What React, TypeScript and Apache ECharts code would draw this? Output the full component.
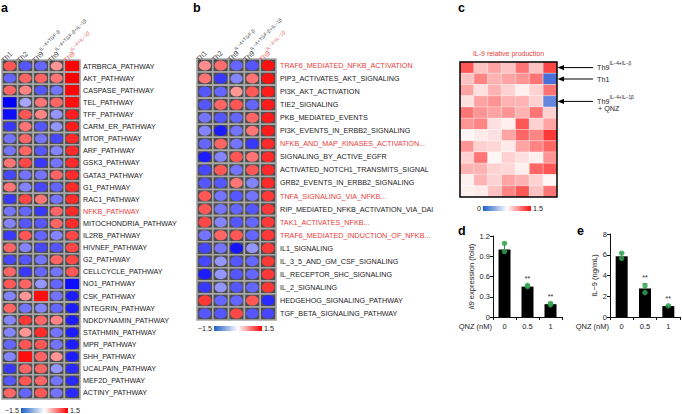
import React, { useEffect, useRef } from "react";
import * as echarts from "echarts";

const FONT = "'Liberation Sans', Arial, Helvetica, sans-serif";
const RED = "#e8403a";

const colBase = ["Th1", "Th2", "Th9", "Th9", "Th9"];
const colSup = ["", "", "IL−4+TGF-β", "IL−4+TGF-β+IL−1β", "IL−4+IL−1β"];
const colKeys = ["Th1", "Th2", "Th9 IL-4+TGF-β", "Th9 IL-4+TGF-β+IL-1β", "Th9 IL-4+IL-1β"];

const pathwaysA = ["ATRBRCA_PATHWAY","AKT_PATHWAY","CASPASE_PATHWAY","TEL_PATHWAY","TFF_PATHWAY","CARM_ER_PATHWAY","MTOR_PATHWAY","ARF_PATHWAY","GSK3_PATHWAY","GATA3_PATHWAY","G1_PATHWAY","RAC1_PATHWAY","NFKB_PATHWAY","MITOCHONDRIA_PATHWAY","IL2RB_PATHWAY","HIVNEF_PATHWAY","G2_PATHWAY","CELLCYCLE_PATHWAY","NO1_PATHWAY","CSK_PATHWAY","INTEGRIN_PATHWAY","NDKDYNAMIN_PATHWAY","STATHMIN_PATHWAY","MPR_PATHWAY","SHH_PATHWAY","UCALPAIN_PATHWAY","MEF2D_PATHWAY","ACTINY_PATHWAY"];
const highlightA = ["NFKB_PATHWAY"];
const valuesA = [
  [0.9, -0.9, -0.8, 0.5, 1.5],
  [-0.8, 0.8, 0.8, 0.7, 1.5],
  [0.8, 0.6, -0.9, -0.7, 1.45],
  [-1.5, -0.4, 0.7, 0.8, 1.4],
  [-1.4, 0.9, 0.6, -0.5, 1.3],
  [-1.1, 0.7, -0.9, -0.5, 1.3],
  [-0.7, 0.8, -0.7, -1.0, 1.2],
  [-0.7, 0.8, -0.9, -0.6, 1.2],
  [0.7, 1.0, -1.1, -0.7, 1.2],
  [-1.0, -0.7, -0.7, 0.8, 1.2],
  [0.7, -0.6, -1.0, -0.8, 1.2],
  [-1.1, 1.0, 0.7, -0.7, 1.2],
  [-0.7, -0.8, -1.1, 0.8, 1.2],
  [-0.6, -0.9, -0.9, 0.8, 1.2],
  [-1.1, 0.9, -0.8, -0.6, 1.0],
  [0.8, -0.6, -1.0, -0.9, 1.0],
  [-1.0, -0.9, -0.7, 0.8, 1.0],
  [0.8, -1.1, -0.8, -0.7, 0.9],
  [0.9, 0.8, -0.5, -0.8, -1.4],
  [-0.6, 0.5, 1.4, -0.7, -1.3],
  [0.8, -0.7, -0.6, -0.8, -1.3],
  [-0.6, 1.1, 0.8, 0.6, -1.3],
  [-0.6, 0.5, 1.2, -0.7, -1.3],
  [-0.8, 0.9, 0.9, -0.7, -1.3],
  [-0.6, 1.4, 0.8, 0.5, -1.3],
  [-1.1, 0.8, 0.8, -0.5, -1.2],
  [-0.9, 0.9, 0.8, -0.7, -1.2],
  [0.8, -0.8, 0.9, -0.7, -1.2],
];

const pathwaysB = ["TRAF6_MEDIATED_NFKB_ACTIVATION","PIP3_ACTIVATES_AKT_SIGNALING","PI3K_AKT_ACTIVATION","TIE2_SIGNALING","PKB_MEDIATED_EVENTS","PI3K_EVENTS_IN_ERBB2_SIGNALING","NFKB_AND_MAP_KINASES_ACTIVATION...","SIGNALING_BY_ACTIVE_EGFR","ACTIVATED_NOTCH1_TRANSMITS_SIGNAL","GRB2_EVENTS_IN_ERBB2_SIGNALING","TNFA_SIGNALING_VIA_NFKB...","RIP_MEDIATED_NFKB_ACTIVATION_VIA_DAI","TAK1_ACTIVATES_NFKB...","TRAF6_MEDIATED_INDUCTION_OF_NFKB...","IL1_SIGNALING","IL_3_5_AND_GM_CSF_SIGNALING","IL_RECEPTOR_SHC_SIGNALING","IL_2_SIGNALING","HEDGEHOG_SIGNALING_PATHWAY","TGF_BETA_SIGNALING_PATHWAY"];
const highlightB = ["TRAF6_MEDIATED_NFKB_ACTIVATION","NFKB_AND_MAP_KINASES_ACTIVATION...","TNFA_SIGNALING_VIA_NFKB...","TAK1_ACTIVATES_NFKB...","TRAF6_MEDIATED_INDUCTION_OF_NFKB..."];
const valuesB = [
  [0.55, 0.75, -0.8, -0.9, 1.37],
  [0.7, -1.1, -0.6, 0.7, 1.37],
  [-0.9, -0.8, 0.5, 0.9, 1.3],
  [-0.9, 0.8, 0.9, -0.8, 1.3],
  [-0.7, -0.9, -0.8, 0.8, 1.3],
  [-0.6, -1.3, -0.7, 0.7, 1.3],
  [-0.8, 0.8, -0.7, -1.1, 1.2],
  [-1.3, -0.6, 0.9, 0.7, 1.2],
  [-1.0, 0.9, -0.7, 0.9, 1.2],
  [-0.9, -0.9, 0.7, -0.6, 1.2],
  [0.9, -0.7, -0.9, -0.7, 1.1],
  [0.9, -0.7, -0.8, -0.9, 1.1],
  [1.0, -0.6, -0.9, -0.8, 1.1],
  [-0.7, 0.8, 0.9, -0.8, 1.1],
  [-1.0, -0.7, -1.35, -0.5, 1.1],
  [-1.0, -0.5, -0.9, -0.8, 1.1],
  [-1.3, -0.5, -0.9, -0.8, 1.1],
  [-1.1, -0.5, -0.9, -0.8, 1.1],
  [1.1, -0.8, -0.8, 0.9, -1.2],
  [-0.9, -0.9, 1.0, -0.9, -1.0],
];

const cCols = ["1", "2", "3", "4", "5", "6", "7"];
const cRows = ["r1", "r2", "r3", "r4", "r5", "r6", "r7", "r8", "r9", "r10", "r11", "r12"];
const valuesC = [
  [1.3, 0.95, 1.05, 0.95, 1.2, 0.95, 1.35],
  [0.95, 1.15, 1.0, 1.05, 1.1, 1.2, 0.1],
  [1.05, 0.85, 1.0, 0.9, 0.8, 0.9, 1.2],
  [0.85, 1.05, 1.1, 1.0, 1.0, 0.9, 0.2],
  [1.2, 1.1, 1.05, 1.1, 1.0, 1.2, 0.9],
  [1.1, 1.15, 0.85, 0.8, 1.3, 0.9, 1.05],
  [0.78, 0.82, 0.85, 1.05, 1.25, 1.15, 1.4],
  [1.1, 0.9, 0.88, 0.82, 1.05, 1.15, 1.25],
  [0.9, 1.2, 0.78, 0.9, 0.85, 0.8, 1.1],
  [1.0, 1.0, 0.9, 0.88, 0.8, 1.25, 1.3],
  [0.8, 1.0, 0.9, 1.05, 1.0, 0.9, 0.78],
  [0.8, 0.82, 0.95, 1.15, 1.3, 0.95, 1.2],
];

const qnz = ["0", "0.5", "1"];
const meanD = [1.0, 0.45, 0.19];
const sdD = [0.1, 0.03, 0.02];
const dotsD = [[1.09, 0.97], [0.47, 0.45], [0.2, 0.18]];
const sigD = ["", "**", "**"];
const meanE = [5.85, 2.75, 1.05];
const sdE = [0.35, 0.45, 0.1];
const dotsE = [[6.15, 5.65], [3.0, 2.35], [1.08]];
const sigE = ["", "**", "**"];

function divColor(v: number) {
  const t = Math.max(-1, Math.min(1, v / 1.5));
  const k = Math.pow(Math.abs(t), 0.8);
  const m = Math.round(255 * (1 - k));
  return t < 0 ? `rgb(${m},${m},255)` : `rgb(255,${m},${m})`;
}
function seqColor(v: number) {
  const t = Math.max(-1, Math.min(1, (v - 0.75) / 0.75));
  const a = Math.abs(t);
  const end = t < 0 ? [45, 90, 210] : [255, 25, 25];
  const mix = end.map((e) => Math.round(255 + (e - 255) * a));
  return `rgb(${mix[0]},${mix[1]},${mix[2]})`;
}

const heatItem = (params: any, api: any) => {
  const c = api.coord([api.value(0), api.value(1)]);
  const s = api.size([1, 1]);
  const w = s[0], h = s[1], v = api.value(2);
  const col = divColor(v);
  const x0 = c[0] - w / 2, y0 = c[1] - h / 2;
  const a = Math.min(1, Math.abs(v) / 1.5);
  const kids: any[] = [
    { type: "rect", shape: { x: x0, y: y0, width: w, height: h }, style: { fill: "#4f4f4f", stroke: "#a8a8a8", lineWidth: 1.6 } },
  ];
  if (Math.abs(v) >= 1.38) {
    kids.push({ type: "rect", shape: { x: x0 + 1, y: y0 + 1, width: w - 2, height: h - 2 }, style: { fill: col } });
  } else {
    kids.push({ type: "ellipse", shape: { cx: c[0], cy: c[1], rx: w / 2 - 2.2 + 0.9 * a, ry: h / 2 - 1.9 + 0.7 * a }, style: { fill: col } });
  }
  return { type: "group", children: kids };
};

const headerRich = {
  b: { fontSize: 7.2, fontFamily: FONT, color: "#111", lineHeight: 10, verticalAlign: "bottom" },
  s: { fontSize: 5, fontFamily: FONT, color: "#111", lineHeight: 10, verticalAlign: "top" },
  r: { fontSize: 7.2, fontFamily: FONT, color: RED, lineHeight: 10, verticalAlign: "bottom" },
  rs: { fontSize: 5, fontFamily: FONT, color: RED, lineHeight: 10, verticalAlign: "top" },
};
const headerText = (i: number) => {
  const hot = i === colKeys.length - 1;
  const b = hot ? "r" : "b";
  const s = hot ? "rs" : "s";
  return colSup[i] ? `{${b}|${colBase[i]}}{${s}|${colSup[i]}}` : `{${b}|${colBase[i]}}`;
};
// rotated column headers as labels of an invisible scatter on the heatmap's own axes
const headerSeries = (axisIndex: number, firstRow: string, lift: number) => ({
  type: "scatter", xAxisIndex: axisIndex, yAxisIndex: axisIndex, symbolSize: 0, silent: true, z: 5,
  data: colKeys.map((k) => [k, firstRow]),
  label: {
    show: true, position: "inside", rotate: 45, align: "left", verticalAlign: "middle",
    offset: [-2, -lift], formatter: (p: any) => headerText(p.dataIndex), rich: headerRich,
  },
});

const cItem = (params: any, api: any) => {
  const c = api.coord([api.value(0), api.value(1)]);
  const s = api.size([1, 1]);
  return {
    type: "rect",
    shape: { x: c[0] - s[0] / 2, y: c[1] - s[1] / 2, width: s[0], height: s[1] },
    style: { fill: seqColor(api.value(2)), stroke: "rgba(255,255,255,0.5)", lineWidth: 0.5 },
  };
};

const errItem = (sig: string[]) => (params: any, api: any) => {
  const x = api.value(0), m = api.value(1), sd = api.value(2);
  const b = api.coord([x, m]);
  const t = api.coord([x, m + sd]);
  return {
    type: "group",
    children: [
      { type: "line", shape: { x1: b[0], y1: b[1], x2: t[0], y2: t[1] }, style: { stroke: "#258a48", lineWidth: 1 } },
      { type: "line", shape: { x1: t[0] - 2.5, y1: t[1], x2: t[0] + 2.5, y2: t[1] }, style: { stroke: "#258a48", lineWidth: 1 } },
      { type: "text", x: t[0], y: t[1] - 3, style: { text: sig[params.dataIndex], fontSize: 7, fontFamily: FONT, fill: "#222", align: "center", verticalAlign: "bottom" } },
    ],
  };
};

const heatXAxis = (gridIndex: number) => ({
  type: "category", gridIndex, data: colKeys, position: "top",
  axisLine: { show: false }, axisTick: { show: false }, splitLine: { show: false }, axisLabel: { show: false },
});
const heatYAxis = (gridIndex: number, data: string[], hl: string[], margin: number) => ({
  type: "category", gridIndex, data, inverse: true, position: "right",
  axisLine: { show: false }, axisTick: { show: false }, splitLine: { show: false },
  axisLabel: { interval: 0, margin, fontSize: 7.2, fontFamily: FONT, color: (v: string) => (hl.includes(v) ? RED : "#1a1a1a") },
});

const barYAxis = (gridIndex: number, max: number, interval: number, name: string, nameGap: number) => ({
  type: "value", gridIndex, min: 0, max, interval,
  name, nameLocation: "middle", nameGap, nameRotate: 90,
  nameTextStyle: { fontSize: 7.5, fontFamily: FONT, color: "#222", rich: { i: { fontSize: 7.5, fontFamily: FONT, fontStyle: "italic", color: "#222" } } },
  axisLine: { show: true, lineStyle: { color: "#111", width: 1 } },
  axisTick: { show: true, length: 3, lineStyle: { color: "#111" } },
  splitLine: { show: false },
  axisLabel: { fontSize: 7.5, fontFamily: FONT, color: "#222", margin: 3 },
});
const barXAxis = (gridIndex: number) => ({
  type: "category", gridIndex, data: qnz,
  axisLine: { lineStyle: { color: "#111", width: 1 } },
  axisTick: { show: true, length: 3, lineStyle: { color: "#111" } },
  axisLabel: { fontSize: 7.5, fontFamily: FONT, color: "#222", margin: 5 },
});

const txt = (text: string, x: number, y: number, extra: any = {}) => ({
  type: "text", x, y,
  style: { text, fontSize: 7.2, fontFamily: FONT, fill: "#222", align: "left", verticalAlign: "middle", ...extra },
});
const letter = (text: string, x: number, y: number) => txt(text, x, y, { fontSize: 12.5, fontWeight: "bold", fill: "#000" });

const grad = (stops: string[]) =>
  new echarts.graphic.LinearGradient(0, 0, 1, 0, stops.map((c, i) => ({ offset: i / (stops.length - 1), color: c })));

const arrow = (y: number) => [
  { type: "line", shape: { x1: 593, y1: y, x2: 562, y2: y }, style: { stroke: "#000", lineWidth: 1 } },
  { type: "polygon", shape: { points: [[557.5, y], [564, y - 2.6], [564, y + 2.6]] }, style: { fill: "#000" } },
];
const supRich = {
  b: { fontSize: 7.2, fontFamily: FONT, fill: "#222", lineHeight: 10, verticalAlign: "bottom" },
  s: { fontSize: 4.8, fontFamily: FONT, fill: "#222", lineHeight: 10, verticalAlign: "top" },
};

export default function App() {
  const ref = useRef<HTMLDivElement>(null);
  useEffect(() => {
    if (!ref.current) return;
    const chart = echarts.init(ref.current, undefined, { renderer: "svg" });
    const option: any = {
      animation: false,
      backgroundColor: "#fff",
      grid: [
        { left: 2, top: 60, width: 78, height: 339 },
        { left: 197, top: 59, width: 79, height: 261 },
        { left: 460, top: 62, width: 97, height: 135, show: true, borderColor: "#000", borderWidth: 1.5, backgroundColor: "transparent", z: 10 },
        { left: 493, top: 236, width: 69, height: 81 },
        { left: 610, top: 234, width: 70, height: 83 },
      ],
      xAxis: [
        heatXAxis(0),
        heatXAxis(1),
        { type: "category", gridIndex: 2, data: cCols, show: false },
        barXAxis(3),
        barXAxis(4),
      ],
      yAxis: [
        heatYAxis(0, pathwaysA, highlightA, 3),
        heatYAxis(1, pathwaysB, highlightB, 4),
        { type: "category", gridIndex: 2, data: cRows, inverse: true, show: false },
        barYAxis(3, 1.2, 0.3, "{i|Il9} expression (fold)", 18),
        barYAxis(4, 8, 2, "IL−9 (ng/mL)", 11),
      ],
      series: [
        { type: "custom", xAxisIndex: 0, yAxisIndex: 0, renderItem: heatItem, data: valuesA.flatMap((row, r) => row.map((v, c) => [c, r, v])) },
        { type: "custom", xAxisIndex: 1, yAxisIndex: 1, renderItem: heatItem, data: valuesB.flatMap((row, r) => row.map((v, c) => [c, r, v])) },
        headerSeries(0, pathwaysA[0], 10),
        headerSeries(1, pathwaysB[0], 10.5),
        { type: "custom", xAxisIndex: 2, yAxisIndex: 2, renderItem: cItem, data: valuesC.flatMap((row, r) => row.map((v, c) => [c, r, v])) },
        { type: "bar", xAxisIndex: 3, yAxisIndex: 3, data: meanD, barWidth: 12, itemStyle: { color: "#000" } },
        { type: "custom", xAxisIndex: 3, yAxisIndex: 3, renderItem: errItem(sigD), data: meanD.map((m, i) => [i, m, sdD[i]]), z: 3 },
        { type: "scatter", xAxisIndex: 3, yAxisIndex: 3, symbolSize: 5.5, itemStyle: { color: "#34a853" }, z: 4, data: dotsD.flatMap((d, i) => d.map((v) => [i, v])) },
        { type: "bar", xAxisIndex: 4, yAxisIndex: 4, data: meanE, barWidth: 12, itemStyle: { color: "#000" } },
        { type: "custom", xAxisIndex: 4, yAxisIndex: 4, renderItem: errItem(sigE), data: meanE.map((m, i) => [i, m, sdE[i]]), z: 3 },
        { type: "scatter", xAxisIndex: 4, yAxisIndex: 4, symbolSize: 5.5, itemStyle: { color: "#34a853" }, z: 4, data: dotsE.flatMap((d, i) => d.map((v) => [i, v])) },
      ],
      graphic: [
        letter("a", 1, 7.5),
        letter("b", 193, 7.5),
        letter("c", 458, 7.5),
        letter("d", 458, 231),
        letter("e", 577, 231),
        { type: "rect", shape: { x: 21, y: 408, width: 47, height: 5 }, style: { fill: grad(["#1f5fc8", "#ffffff", "#ff0000"]) } },
        txt("−1.5", 19, 410.5, { align: "right" }),
        txt("1.5", 70, 410.5),
        { type: "rect", shape: { x: 214, y: 326, width: 48, height: 5 }, style: { fill: grad(["#1f5fc8", "#ffffff", "#ff0000"]) } },
        txt("−1.5", 212, 328.5, { align: "right" }),
        txt("1.5", 264, 328.5),
        { type: "rect", shape: { x: 483, y: 206, width: 48, height: 5 }, style: { fill: grad(["#1f5fc8", "#ffffff", "#ff1010"]) } },
        txt("0", 481, 208.5, { align: "right" }),
        txt("1.5", 533, 208.5),
        txt("IL-9 relative production", 508.5, 53.5, { align: "center", fill: RED, fontSize: 7 }),
        ...arrow(67.6),
        ...arrow(79),
        ...arrow(101.4),
        txt("{b|Th9}{s|IL−4+IL−β}", 597, 66, { rich: supRich }),
        txt("Th1", 597, 79.5),
        txt("{b|Th9}{s|IL−4+IL−1β}", 597, 99.5, { rich: supRich }),
        txt("+ QNZ", 598, 108.5),
        txt("QNZ (nM)", 492, 326, { align: "right", fontSize: 7.5 }),
        txt("QNZ (nM)", 609, 326, { align: "right", fontSize: 7.5 }),
      ],
    };
    chart.setOption(option);
    return () => chart.dispose();
  }, []);
  return <div ref={ref} style={{ position: "absolute", left: 0, top: 0, width: 682, height: 414 }} />;
}
